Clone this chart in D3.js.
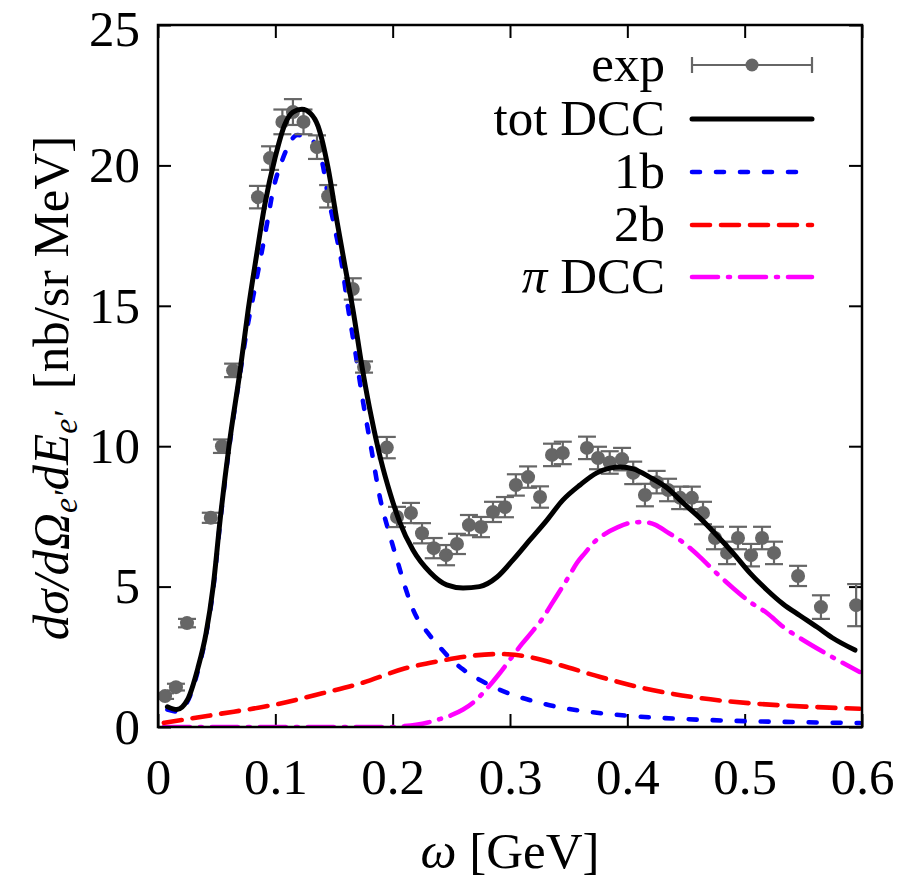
<!DOCTYPE html>
<html>
<head>
<meta charset="utf-8">
<script src="https://cdn.jsdelivr.net/npm/d3@7"></script>
<style>
  html, body { margin: 0; padding: 0; background: #fff; }
  svg { display: block; font-family: "Liberation Serif", "Times New Roman", serif; }
</style>
</head>
<body>
<svg id="chart" width="903" height="882"></svg>
<script>
// Axis ticks and labels
const xTicks = [0, 0.1, 0.2, 0.3, 0.4, 0.5, 0.6];
const xTickLabels = ["0", "0.1", "0.2", "0.3", "0.4", "0.5", "0.6"];
const yTicks = [0, 5, 10, 15, 20, 25];
const yTickLabels = ["0", "5", "10", "15", "20", "25"];

// Measured cross section: energy transfer [GeV], value, uncertainty
const expOmega = [0.006, 0.0153, 0.0247, 0.045, 0.0545, 0.064, 0.0852, 0.0955, 0.106, 0.115,
  0.124, 0.1355, 0.145, 0.166, 0.1756, 0.195, 0.2037, 0.2156, 0.225, 0.235,
  0.2455, 0.2548, 0.265, 0.2753, 0.2855, 0.2957, 0.305, 0.3154, 0.3256, 0.3358,
  0.345, 0.3656, 0.375, 0.385, 0.3955, 0.405, 0.415, 0.425, 0.4347, 0.445,
  0.455, 0.4645, 0.4747, 0.485, 0.4943, 0.5054, 0.5148, 0.525, 0.5455, 0.565, 0.595];
const expValue = [1.10, 1.42, 3.70, 7.45, 10.0, 12.7, 18.87, 20.26, 21.55, 21.9,
  21.55, 20.65, 18.9, 15.6, 12.82, 9.95, 7.48, 7.62, 6.9, 6.37,
  6.12, 6.52, 7.19, 7.12, 7.66, 7.83, 8.62, 8.9, 8.19, 9.69,
  9.76, 9.94, 9.58, 9.42, 9.54, 9.05, 8.26, 8.72, 8.44, 8.16,
  8.16, 7.62, 6.73, 6.2, 6.73, 6.12, 6.73, 6.2, 5.38, 4.27, 4.34];
const expError = [0.1, 0.12, 0.15, 0.18, 0.24, 0.24, 0.4, 0.42, 0.44, 0.46,
  0.44, 0.42, 0.4, 0.38, 0.2, 0.38, 0.36, 0.36, 0.36, 0.36,
  0.36, 0.36, 0.36, 0.36, 0.36, 0.36, 0.38, 0.38, 0.38, 0.4,
  0.4, 0.4, 0.4, 0.4, 0.4, 0.4, 0.4, 0.4, 0.4, 0.4,
  0.4, 0.4, 0.4, 0.4, 0.4, 0.4, 0.4, 0.4, 0.36, 0.42, 0.75];

// Total DCC calculation
const totOmega = [0.008, 0.016, 0.025, 0.034, 0.041, 0.047, 0.053, 0.0605, 0.07, 0.077,
  0.084, 0.091, 0.0997, 0.108, 0.115, 0.1227, 0.13, 0.1364, 0.145, 0.1526,
  0.1594, 0.166, 0.174, 0.182, 0.19, 0.198, 0.206, 0.2173, 0.232, 0.246,
  0.26, 0.274, 0.289, 0.3026, 0.317, 0.3315, 0.345, 0.3597, 0.374, 0.385,
  0.394, 0.405, 0.419, 0.434, 0.4475, 0.462, 0.476, 0.49, 0.5046, 0.519,
  0.5327, 0.547, 0.5617, 0.575, 0.594];
const totValue = [0.72, 0.62, 0.96, 2.1, 3.35, 5.0, 7.4, 10.0, 12.7, 14.9,
  16.8, 18.6, 20.26, 21.45, 21.9, 22.0, 21.85, 21.4, 19.9, 18.0,
  16.4, 14.9, 12.8, 11.0, 9.5, 8.3, 7.3, 6.3, 5.5, 5.06,
  4.95, 5.0, 5.34, 5.95, 6.66, 7.37, 8.08, 8.62, 9.05, 9.22,
  9.26, 9.19, 8.9, 8.51, 7.98, 7.44, 6.84, 6.2, 5.48, 4.88,
  4.38, 3.97, 3.56, 3.17, 2.74];

// One-body contribution
const oneBOmega = [0.008, 0.016, 0.025, 0.034, 0.041, 0.047, 0.053, 0.0605, 0.07, 0.076,
  0.081, 0.087, 0.093, 0.098, 0.106, 0.119, 0.131, 0.14, 0.145, 0.151,
  0.157, 0.161, 0.168, 0.1747, 0.182, 0.189, 0.198, 0.2045, 0.2105, 0.2175,
  0.23, 0.24, 0.25, 0.26, 0.27, 0.28, 0.29, 0.3, 0.32, 0.34,
  0.36, 0.38, 0.4, 0.45, 0.5, 0.55, 0.598];
const oneBValue = [0.62, 0.55, 0.9, 2.0, 3.3, 4.9, 7.3, 9.9, 12.6, 14.2,
  15.3, 16.6, 17.95, 19.1, 20.2, 21.08, 20.9, 20.1, 18.9, 17.7,
  16.4, 15.2, 13.4, 11.6, 9.86, 8.2, 6.77, 5.84, 5.0, 4.17,
  3.35, 2.85, 2.4, 2.05, 1.78, 1.55, 1.35, 1.18, 0.92, 0.72,
  0.58, 0.48, 0.4, 0.28, 0.21, 0.17, 0.14];

// Two-body contribution
const twoBOmega = [0.005, 0.05, 0.1, 0.14, 0.174, 0.21, 0.24, 0.266, 0.291, 0.317,
  0.343, 0.377, 0.41, 0.462, 0.513, 0.555, 0.598];
const twoBValue = [0.15, 0.45, 0.8, 1.2, 1.57, 2.08, 2.35, 2.53, 2.6, 2.49,
  2.2, 1.78, 1.42, 1.03, 0.82, 0.72, 0.65];

// Pion production (DCC)
const piOmega = [0.005, 0.1, 0.2, 0.21, 0.22, 0.23, 0.24, 0.25, 0.26, 0.27,
  0.28, 0.29, 0.3, 0.31, 0.32, 0.328, 0.335, 0.343, 0.35, 0.357,
  0.364, 0.371, 0.38, 0.392, 0.403, 0.413, 0.424, 0.434, 0.447, 0.462,
  0.476, 0.49, 0.5046, 0.519, 0.533, 0.547, 0.57, 0.598];
const piValue = [0.0, 0.0, 0.0, 0.03, 0.08, 0.16, 0.28, 0.42, 0.62, 0.92,
  1.35, 1.85, 2.4, 2.95, 3.45, 3.88, 4.35, 4.88, 5.35, 5.84,
  6.2, 6.55, 6.85, 7.12, 7.27, 7.3, 7.2, 6.94, 6.59, 6.05,
  5.48, 4.95, 4.45, 4.06, 3.56, 3.17, 2.6, 1.96];

const legendLabels = ["exp", "tot DCC", "1b", "2b", "\u03c0 DCC"];

const svg = d3.select("#chart");
const FONT = 51;
const x = d3.scaleLinear().domain([0, 0.6]).range([158, 862]);
const y = d3.scaleLinear().domain([0, 25]).range([727, 25]);

// clip for curves
svg.append("defs").append("clipPath").attr("id", "plotClip")
  .append("rect").attr("x", 158).attr("y", 25).attr("width", 704).attr("height", 702);

// Axes: inward ticks on all four sides, labels on bottom and left
const tick = 13;
const gBottom = svg.append("g").attr("transform", `translate(0,${y(0)})`)
  .call(d3.axisBottom(x).tickValues(xTicks).tickSizeInner(-tick).tickSizeOuter(0)
    .tickPadding(31).tickFormat((d, i) => xTickLabels[i]));
const gLeft = svg.append("g").attr("transform", `translate(${x(0)},0)`)
  .call(d3.axisLeft(y).tickValues(yTicks).tickSizeInner(-tick).tickSizeOuter(0)
    .tickPadding(18).tickFormat((d, i) => yTickLabels[i]));
const gTop = svg.append("g").attr("transform", `translate(0,${y(25)})`)
  .call(d3.axisTop(x).tickValues(xTicks).tickSizeInner(-tick).tickSizeOuter(0).tickFormat(""));
const gRight = svg.append("g").attr("transform", `translate(${x(0.6)},0)`)
  .call(d3.axisRight(y).tickValues(yTicks).tickSizeInner(-tick).tickSizeOuter(0).tickFormat(""));
[gBottom, gLeft, gTop, gRight].forEach(g => {
  g.select(".domain").remove();
  g.selectAll(".tick line").attr("stroke", "#000").attr("stroke-width", 2);
  g.selectAll(".tick text").attr("font-family", "Liberation Serif, serif")
    .attr("font-size", FONT).attr("fill", "#000");
});
// keep the top label inside the canvas
gLeft.selectAll(".tick text").filter(d => d === 25).attr("dy", "0.4em");

const plot = svg.append("g").attr("clip-path", "url(#plotClip)");

const line = d3.line().x(d => x(d[0])).y(d => y(d[1])).curve(d3.curveMonotoneX);
const zip = (a, b) => a.map((v, i) => [v, b[i]]);

const styles = {
  tot: { color: "#000000", width: 5, dash: null },
  oneB: { color: "#0000ff", width: 4.6, dash: "8,16" },
  twoB: { color: "#ff0000", width: 4.6, dash: "18,11" },
  pi: { color: "#ff00ff", width: 4.6, dash: "26,10,2,10" }
};

function drawCurve(data, st) {
  const p = plot.append("path").datum(data).attr("d", line)
    .attr("fill", "none").attr("stroke", st.color).attr("stroke-width", st.width)
    .attr("stroke-linecap", "round").attr("stroke-linejoin", "round");
  if (st.dash) p.attr("stroke-dasharray", st.dash);
}

drawCurve(zip(piOmega, piValue), styles.pi);
drawCurve(zip(twoBOmega, twoBValue), styles.twoB);
drawCurve(zip(oneBOmega, oneBValue), styles.oneB);

// Experimental points with error bars
const expGray = "#666666";
const expData = expOmega.map((w, i) => ({ w, v: expValue[i], e: expError[i] }));
const eg = plot.append("g");
const pts = eg.selectAll("g.pt").data(expData).join("g").attr("class", "pt");
pts.append("line").attr("x1", d => x(d.w)).attr("x2", d => x(d.w))
  .attr("y1", d => y(d.v - d.e)).attr("y2", d => y(d.v + d.e))
  .attr("stroke", expGray).attr("stroke-width", 2.2);
pts.append("line").attr("x1", d => x(d.w) - 9).attr("x2", d => x(d.w) + 9)
  .attr("y1", d => y(d.v + d.e)).attr("y2", d => y(d.v + d.e))
  .attr("stroke", expGray).attr("stroke-width", 2.2);
pts.append("line").attr("x1", d => x(d.w) - 9).attr("x2", d => x(d.w) + 9)
  .attr("y1", d => y(d.v - d.e)).attr("y2", d => y(d.v - d.e))
  .attr("stroke", expGray).attr("stroke-width", 2.2);
pts.append("circle").attr("cx", d => x(d.w)).attr("cy", d => y(d.v)).attr("r", 7)
  .attr("fill", expGray);

drawCurve(zip(totOmega, totValue), styles.tot);

// Frame
svg.append("rect").attr("x", 158).attr("y", 25).attr("width", 704).attr("height", 702)
  .attr("fill", "none").attr("stroke", "#000").attr("stroke-width", 2.5);

// Legend
const legX0 = 692, legX1 = 812, legTextX = 665;
const legY = [65, 119, 172, 225, 277];
const leg = svg.append("g");
legendLabels.forEach((lab, i) => {
  const t = leg.append("text").attr("x", legTextX).attr("y", legY[i] + 16)
    .attr("text-anchor", "end").attr("font-size", FONT).attr("fill", "#000");
  if (i === 4) {
    t.append("tspan").attr("font-style", "italic").text("\u03c0");
    t.append("tspan").text(" DCC");
  } else {
    t.text(lab);
  }
});
// exp sample: horizontal bar with caps and dot
const ly = legY[0];
leg.append("line").attr("x1", legX0).attr("x2", legX1).attr("y1", ly).attr("y2", ly)
  .attr("stroke", expGray).attr("stroke-width", 2.2);
[legX0, legX1].forEach(xx => leg.append("line").attr("x1", xx).attr("x2", xx)
  .attr("y1", ly - 8).attr("y2", ly + 8).attr("stroke", expGray).attr("stroke-width", 2.2));
leg.append("circle").attr("cx", (legX0 + legX1) / 2).attr("cy", ly).attr("r", 6.5).attr("fill", expGray);
[styles.tot, styles.oneB, styles.twoB, styles.pi].forEach((st, i) => {
  const l = leg.append("line").attr("x1", legX0).attr("x2", legX1)
    .attr("y1", legY[i + 1]).attr("y2", legY[i + 1])
    .attr("stroke", st.color).attr("stroke-width", st.width).attr("stroke-linecap", "round");
  if (st.dash) l.attr("stroke-dasharray", st.dash);
});

// Axis titles
const xt = svg.append("text").attr("x", 510).attr("y", 868).attr("text-anchor", "middle")
  .attr("font-size", FONT).attr("fill", "#000");
xt.append("tspan").attr("font-style", "italic").text("\u03c9");
xt.append("tspan").text(" [GeV]");

const yt = svg.append("text").attr("transform", "translate(68,388) rotate(-90)")
  .attr("text-anchor", "middle").attr("font-size", FONT).attr("fill", "#000");
yt.append("tspan").attr("font-style", "italic").text("d\u03c3/d\u03a9");
yt.append("tspan").attr("font-style", "italic").attr("font-size", 34).attr("dy", 9).text("e\u2032");
yt.append("tspan").attr("font-style", "italic").attr("dy", -9).text("dE");
yt.append("tspan").attr("font-style", "italic").attr("font-size", 34).attr("dy", 9).text("e\u2032");
yt.append("tspan").attr("dy", -9).attr("dx", 22).text("[nb/sr MeV]");
</script>
</body>
</html>
